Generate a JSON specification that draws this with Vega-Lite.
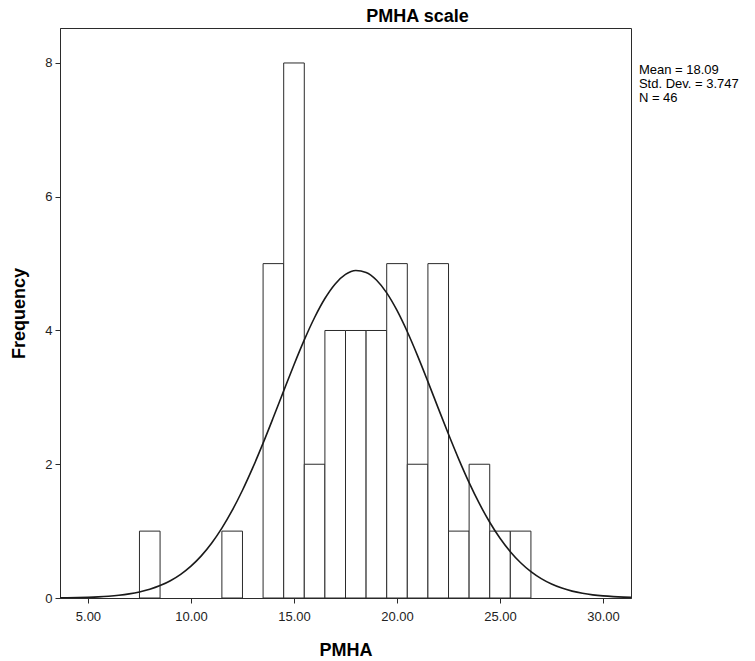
{
  "$schema": "https://vega.github.io/schema/vega-lite/v6.json",
  "autosize": {"type": "none"},
  "padding": {"left": 60, "top": 28, "right": 124, "bottom": 63},
  "width": 571,
  "height": 570,
  "background": "white",
  "config": {
    "view": {"stroke": "#2b2b2b", "strokeWidth": 1},
    "font": "Liberation Sans",
    "axis": {"grid": false, "domainColor": "#2b2b2b", "tickColor": "#2b2b2b", "labelColor": "#222", "titleColor": "#000", "labelFont": "Liberation Sans", "titleFont": "Liberation Sans", "labelFontSize": 13, "titleFontSize": 18, "titleFontWeight": "bold", "tickSize": 5}
  },
  "title": {"text": "PMHA scale", "font": "Liberation Sans", "fontSize": 18, "fontWeight": "bold", "color": "#000", "anchor": "middle", "dx": 72, "offset": 2},
  "datasets": {
    "bins": [
      {"lo": 7.5, "hi": 8.5, "count": 1},
      {"lo": 11.5, "hi": 12.5, "count": 1},
      {"lo": 13.5, "hi": 14.5, "count": 5},
      {"lo": 14.5, "hi": 15.5, "count": 8},
      {"lo": 15.5, "hi": 16.5, "count": 2},
      {"lo": 16.5, "hi": 17.5, "count": 4},
      {"lo": 17.5, "hi": 18.5, "count": 4},
      {"lo": 18.5, "hi": 19.5, "count": 4},
      {"lo": 19.5, "hi": 20.5, "count": 5},
      {"lo": 20.5, "hi": 21.5, "count": 2},
      {"lo": 21.5, "hi": 22.5, "count": 5},
      {"lo": 22.5, "hi": 23.5, "count": 1},
      {"lo": 23.5, "hi": 24.5, "count": 2},
      {"lo": 24.5, "hi": 25.5, "count": 1},
      {"lo": 25.5, "hi": 26.5, "count": 1}
    ],
    "curve": [
      {"x": 3.5, "y": 0.0025}, {"x": 4, "y": 0.0042}, {"x": 4.5, "y": 0.0068}, {"x": 5, "y": 0.011},
      {"x": 5.5, "y": 0.0174}, {"x": 6, "y": 0.0269}, {"x": 6.5, "y": 0.0411}, {"x": 7, "y": 0.0615},
      {"x": 7.5, "y": 0.0905}, {"x": 8, "y": 0.1306}, {"x": 8.5, "y": 0.1855}, {"x": 9, "y": 0.2588},
      {"x": 9.5, "y": 0.3545}, {"x": 10, "y": 0.4769}, {"x": 10.5, "y": 0.6304}, {"x": 11, "y": 0.8188},
      {"x": 11.5, "y": 1.0448}, {"x": 12, "y": 1.3093}, {"x": 12.5, "y": 1.6114}, {"x": 13, "y": 1.9489},
      {"x": 13.5, "y": 2.3153}, {"x": 14, "y": 2.7022}, {"x": 14.5, "y": 3.0975}, {"x": 15, "y": 3.4884},
      {"x": 15.5, "y": 3.8591}, {"x": 16, "y": 4.1942}, {"x": 16.5, "y": 4.4778}, {"x": 17, "y": 4.6962},
      {"x": 17.5, "y": 4.8382}, {"x": 18, "y": 4.8967}, {"x": 18.5, "y": 4.8683}, {"x": 19, "y": 4.7547},
      {"x": 19.5, "y": 4.5619}, {"x": 20, "y": 4.2995}, {"x": 20.5, "y": 3.9806}, {"x": 21, "y": 3.6206},
      {"x": 21.5, "y": 3.2351}, {"x": 22, "y": 2.8394}, {"x": 22.5, "y": 2.448}, {"x": 23, "y": 2.0733},
      {"x": 23.5, "y": 1.7251}, {"x": 24, "y": 1.4101}, {"x": 24.5, "y": 1.1324}, {"x": 25, "y": 0.8929},
      {"x": 25.5, "y": 0.6921}, {"x": 26, "y": 0.5265}, {"x": 26.5, "y": 0.3939}, {"x": 27, "y": 0.2894},
      {"x": 27.5, "y": 0.2088}, {"x": 28, "y": 0.1479}, {"x": 28.5, "y": 0.1031}, {"x": 29, "y": 0.0705},
      {"x": 29.5, "y": 0.0473}, {"x": 30, "y": 0.0313}, {"x": 30.5, "y": 0.0203}, {"x": 31, "y": 0.0129},
      {"x": 31.5, "y": 0.0081}
    ]
  },
  "layer": [
    {
      "data": {"name": "bins"},
      "mark": {"type": "rect", "fill": "white", "stroke": "#2b2b2b", "strokeWidth": 1},
      "encoding": {
        "x": {"field": "lo", "type": "quantitative", "scale": {"domain": [3.643, 31.357], "nice": false, "zero": false},
              "axis": {"values": [5, 10, 15, 20, 25, 30], "format": ".2f", "title": "PMHA", "labelPadding": 7, "titlePadding": 18}},
        "x2": {"field": "hi"},
        "y": {"field": "count", "type": "quantitative", "scale": {"domain": [0, 8.523], "nice": false},
              "axis": {"values": [0, 2, 4, 6, 8], "format": "d", "title": "Frequency", "labelPadding": 3, "titlePadding": 16}},
        "y2": {"datum": 0}
      }
    },
    {
      "data": {"name": "curve"},
      "mark": {"type": "line", "stroke": "#1a1a1a", "strokeWidth": 1.6, "clip": true, "interpolate": "monotone"},
      "encoding": {
        "x": {"field": "x", "type": "quantitative"},
        "y": {"field": "y", "type": "quantitative"}
      }
    },
    {
      "data": {"values": [{}]},
      "mark": {"type": "text", "text": ["Mean = 18.09", "Std. Dev. = 3.747", "N = 46"], "align": "left", "baseline": "middle", "font": "Liberation Sans", "fontSize": 13, "lineHeight": 14, "color": "#000", "clip": false},
      "encoding": {
        "x": {"datum": 31.74},
        "y": {"datum": 7.895}
      }
    }
  ]
}
